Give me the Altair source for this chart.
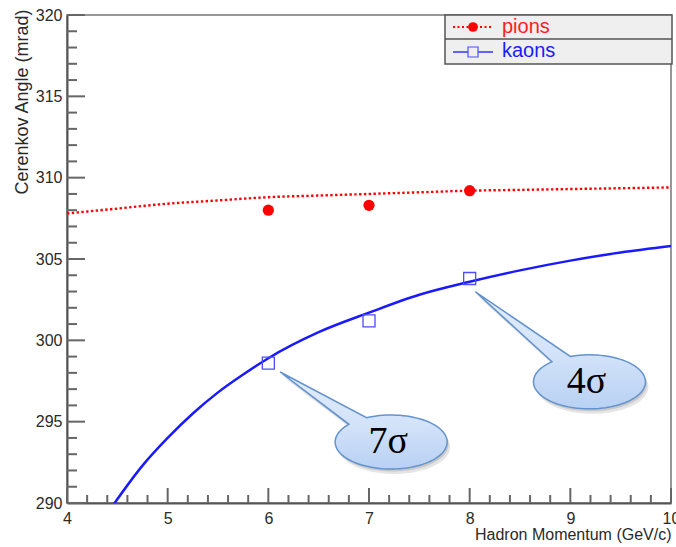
import math
import altair as alt
import pandas as pd

# --- measured Cerenkov angles (mrad) vs hadron momentum (GeV/c) ---
pion_p = [6, 7, 8]
pion_theta = [308.0, 308.3, 309.2]
kaon_p = [6, 7, 8]
kaon_theta = [298.6, 301.2, 303.8]

# --- expected-angle curves ---
pion_curve_p = [4.0, 4.5, 5.0, 5.5, 6.0, 6.5, 7.0, 7.5, 8.0, 8.5, 9.0, 9.5, 10.0]
pion_curve_theta = [307.8, 308.1, 308.4, 308.6, 308.8, 308.9, 309.0, 309.1,
                    309.2, 309.25, 309.3, 309.35, 309.4]
kaon_curve_p = [4.45, 4.75, 5.0, 5.25, 5.5, 5.75, 6.0, 6.5, 7.0, 7.5, 8.0,
                8.5, 9.0, 9.5, 10.0]
kaon_curve_theta = [289.8, 292.3, 294.0, 295.5, 296.8, 297.9, 298.9, 300.5,
                    301.7, 302.8, 303.6, 304.3, 304.9, 305.4, 305.8]

# --- axis ticks ---
x_major = [4, 5, 6, 7, 8, 9, 10]
x_minor = [4.2, 4.4, 4.6, 4.8, 5.2, 5.4, 5.6, 5.8, 6.2, 6.4, 6.6, 6.8,
           7.2, 7.4, 7.6, 7.8, 8.2, 8.4, 8.6, 8.8, 9.2, 9.4, 9.6, 9.8]
y_major = [290, 295, 300, 305, 310, 315, 320]
y_minor = [291, 292, 293, 294, 296, 297, 298, 299, 301, 302, 303, 304,
           306, 307, 308, 309, 311, 312, 313, 314, 316, 317, 318, 319]

# --- separation callouts ---
bubble_text = ["7σ", "4σ"]
bubble_p = [7.22, 9.19]
bubble_theta = [293.75, 297.45]

W, H = 604, 488
TICK = "#666666"
RED = "#ff0000"
BLUE = "#1a1aff"
FONT = "Liberation Sans"
LABEL = "#2a2a2a"

xs = alt.Scale(domain=[4, 10], nice=False, zero=False)
ys = alt.Scale(domain=[290, 320], nice=False, zero=False)

x_axis = alt.Axis(
    values=x_major, format="d", ticks=False, tickSize=0, grid=False,
    labelFlush=False, labelFontSize=16, labelColor=LABEL, labelFont=FONT,
    labelPadding=7, domainColor="#555555", domainWidth=2,
    title="Hadron Momentum (GeV/c)", titleFont=FONT, titleFontSize=16,
    titleFontWeight="normal", titleColor=LABEL, titleAnchor="end",
    titleAlign="right", titleBaseline="alphabetic", titleX=W, titleY=36,
)
y_axis = alt.Axis(
    values=y_major, format="d", ticks=False, tickSize=0, grid=False,
    labelFlush=False, labelFontSize=16, labelColor=LABEL, labelFont=FONT,
    labelPadding=5, domainColor="#555555", domainWidth=2,
    title="Cerenkov Angle (mrad)", titleFont=FONT, titleFontSize=18,
    titleFontWeight="normal", titleColor=LABEL, titleAnchor="end",
    titleAngle=270, titleAlign="right", titleBaseline="alphabetic",
    titleX=-40, titleY=-6,
)


def X(field):
    return alt.X(field, scale=xs, axis=x_axis)


def Y(field):
    return alt.Y(field, scale=ys, axis=y_axis)


# curves
pion_curve = alt.Chart(pd.DataFrame({"p": pion_curve_p, "theta": pion_curve_theta})).mark_line(
    color=RED, strokeWidth=2.4, strokeDash=[2.4, 2.4], interpolate="monotone", clip=True
).encode(x=X("p:Q"), y=Y("theta:Q"))

kaon_curve = alt.Chart(pd.DataFrame({"p": kaon_curve_p, "theta": kaon_curve_theta})).mark_line(
    color=BLUE, strokeWidth=2.5, interpolate="monotone", clip=True
).encode(x=X("p:Q"), y=Y("theta:Q"))


# inward ticks
def x_ticks(vals, length):
    return alt.Chart(pd.DataFrame({"p": vals})).mark_rule(color=TICK, strokeWidth=2).encode(
        x=X("p:Q"), y=alt.value(H), y2=alt.value(H - length))


def y_ticks(vals, length):
    return alt.Chart(pd.DataFrame({"t": vals})).mark_rule(color=TICK, strokeWidth=2).encode(
        y=Y("t:Q"), x=alt.value(0), x2=alt.value(length))


# measured points
pion_pts = alt.Chart(pd.DataFrame({"p": pion_p, "theta": pion_theta})).mark_circle(
    color=RED, size=125, opacity=1
).encode(x=X("p:Q"), y=Y("theta:Q"))

kaon_pts = alt.Chart(pd.DataFrame({"p": kaon_p, "theta": kaon_theta})).mark_point(
    shape="square", filled=False, color="#4d4dff", size=144, strokeWidth=1.3, opacity=1
).encode(x=X("p:Q"), y=Y("theta:Q"))

# callout balloons: ellipse with a pointer, as custom symbol paths
SYM = 40000
K = math.sqrt(SYM) / 2.0


def balloon_path(rx, ry, t0, t1, tip, off=(0.0, 0.0)):
    pts = []
    n = 96
    for i in range(n + 1):
        t = math.radians(t0 + (t1 - t0) * i / n)
        pts.append((rx * math.cos(t), ry * math.sin(t)))
    pts.append(tip)
    ox, oy = off
    coords = [f"{(x + ox) / K:.4f},{(y + oy) / K:.4f}" for x, y in pts]
    return "M" + " L".join(coords) + " Z"


balloon_geom = [
    dict(rx=56, ry=27, t0=244, t1=581, tip=(-111, -70)),
    dict(rx=56, ry=27, t0=250, t1=588, tip=(-114, -90)),
]

fill_grad = alt.LinearGradient(
    gradient="linear", x1=0, x2=0, y1=0, y2=1,
    stops=[alt.GradientStop(color="#e4eefc", offset=0),
           alt.GradientStop(color="#d2e2f9", offset=0.55),
           alt.GradientStop(color="#b8d1f3", offset=1)],
)

balloon_layers = []
for i, g in enumerate(balloon_geom):
    src = pd.DataFrame({"p": [bubble_p[i]], "theta": [bubble_theta[i]], "label": [bubble_text[i]]})
    enc = dict(x=X("p:Q"), y=Y("theta:Q"))
    for off, op in [((3, 5), 0.10), ((1.5, 2.5), 0.12)]:
        balloon_layers.append(alt.Chart(src).mark_point(
            shape=balloon_path(g["rx"], g["ry"], g["t0"], g["t1"], g["tip"], off),
            size=SYM, filled=True, fill="#000000", strokeOpacity=0, opacity=op
        ).encode(**enc))
    balloon_layers.append(alt.Chart(src).mark_point(
        shape=balloon_path(g["rx"], g["ry"], g["t0"], g["t1"], g["tip"]),
        size=SYM, filled=True, fill=fill_grad, stroke="#6393cc", strokeWidth=1.5, opacity=1
    ).encode(**enc))
    balloon_layers.append(alt.Chart(src).mark_text(
        font="Liberation Serif", fontSize=38, color="#000000", align="center",
        baseline="alphabetic", dx=-3, dy=11
    ).encode(text="label:N", **enc))

# legend box (top right)
one = pd.DataFrame({"k": [0]})
LX0, LX1, LY0, LY1, LYD = 378, 605, 0, 49, 24
legend_box = alt.Chart(one).mark_rect(fill="#efefef", stroke="#555555", strokeWidth=1.5).encode(
    x=alt.value(LX0), x2=alt.value(LX1), y=alt.value(LY0), y2=alt.value(LY1))
legend_div = alt.Chart(one).mark_rule(color="#555555", strokeWidth=1.5).encode(
    x=alt.value(LX0), x2=alt.value(LX1), y=alt.value(LYD))
leg_pion_line = alt.Chart(one).mark_rule(color=RED, strokeWidth=2, strokeDash=[2, 2.5]).encode(
    x=alt.value(386), x2=alt.value(426), y=alt.value(12))
leg_pion_sym = alt.Chart(one).mark_circle(color=RED, size=95, opacity=1).encode(
    x=alt.value(406), y=alt.value(12))
leg_pion_txt = alt.Chart(one).mark_text(
    text="pions", color="#ff2020", font=FONT, fontSize=20, align="left", baseline="alphabetic"
).encode(x=alt.value(435), y=alt.value(18))
leg_kaon_line = alt.Chart(one).mark_rule(color="#3333ff", strokeWidth=1.5).encode(
    x=alt.value(386), x2=alt.value(426), y=alt.value(37))
leg_kaon_sym = alt.Chart(one).mark_point(
    shape="square", filled=True, fill="#efefef", stroke="#4d4dff", size=100, strokeWidth=1.2, opacity=1
).encode(x=alt.value(406), y=alt.value(37))
leg_kaon_txt = alt.Chart(one).mark_text(
    text="kaons", color=BLUE, font=FONT, fontSize=20, align="left", baseline="alphabetic"
).encode(x=alt.value(435), y=alt.value(42))

chart = alt.layer(
    pion_curve, kaon_curve,
    x_ticks(x_major, 15), x_ticks(x_minor, 8),
    y_ticks(y_major, 18), y_ticks(y_minor, 10),
    pion_pts, kaon_pts,
    *balloon_layers,
    legend_box, legend_div,
    leg_pion_line, leg_pion_sym, leg_pion_txt,
    leg_kaon_line, leg_kaon_sym, leg_kaon_txt,
).properties(
    width=W, height=H,
    padding={"left": 67, "top": 15, "right": 5, "bottom": 44},
    autosize=alt.AutoSizeParams(type="none"),
    background="white",
).configure_view(stroke="#777777", strokeWidth=1.5)

chart.save("out.html", embed_options={"renderer": "svg", "actions": False})
